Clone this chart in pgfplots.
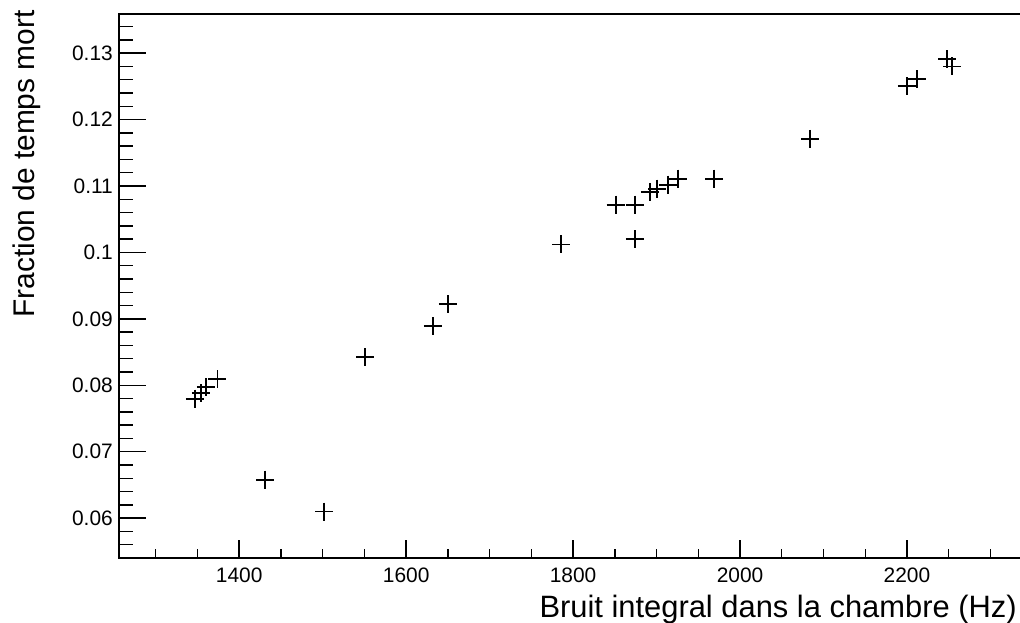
\documentclass[border=0pt]{standalone}
\usepackage{fontspec}
\setmainfont{Liberation Sans}
\usepackage{pgfplots}
\pgfplotsset{compat=1.18}
\begin{document}
\begin{tikzpicture}
\useasboundingbox (-119bp,-65bp) rectangle (901bp,558bp);
\clip (-119bp,-65bp) rectangle (901bp,558bp);
\begin{axis}[
  scale only axis,
  width=909bp, height=544bp,
  xmin=1256, xmax=2345, ymin=0.054, ymax=0.1359,
  axis line style={line width=1.6bp},
  tick align=inside,
  xtick pos=bottom, ytick pos=left,
  xtick={1400,1600,1800,2000,2200},
  minor xtick={1300,1350,1450,1500,1550,1650,1700,1750,1850,1900,1950,2050,2100,2150,2250,2300},
  ytick={0.06,0.07,0.08,0.09,0.1,0.11,0.12,0.13},
  minor ytick={0.056,0.058,0.062,0.064,0.066,0.068,0.072,0.074,0.076,0.078,0.082,0.084,0.086,0.088,0.092,0.094,0.096,0.098,0.102,0.104,0.106,0.108,0.112,0.114,0.116,0.118,0.122,0.124,0.126,0.128,0.132,0.134},
  xtick style={line width=1.4bp, black, /pgfplots/major tick length=18bp, /pgfplots/minor tick length=9bp},
  ytick style={line width=1.4bp, black, /pgfplots/major tick length=27bp, /pgfplots/minor tick length=14bp},
  scaled x ticks=false, scaled y ticks=false,
  /pgf/number format/assume math mode=true,
  xticklabel style={font=\fontsize{21}{25}\selectfont, inner sep=0pt, yshift=-10bp, /pgf/number format/fixed, /pgf/number format/set thousands separator={}},
  yticklabel style={font=\fontsize{21}{25}\selectfont, inner sep=0pt, xshift=-6bp, /pgf/number format/fixed, /pgf/number format/precision=2},
  xlabel={Bruit integral dans la chambre (Hz)},
  ylabel={Fraction de temps mort},
  every axis x label/.style={at={(axis description cs:0.9878,-0.1085)}, anchor=base east, font=\fontsize{31}{37}\selectfont, inner sep=0pt},
  every axis y label/.style={at={(axis description cs:-0.0935,1.007)}, anchor=base east, rotate=90, font=\fontsize{30}{36}\selectfont, inner sep=0pt},
  clip=false,
]
\addplot[only marks, mark=+, mark size=9bp, line width=1.9bp, black] coordinates {
(1347,0.0780)
(1354,0.0788)
(1360,0.0797)
(1374,0.0809)
(1431,0.0658)
(1502,0.0610)
(1551,0.0842)
(1632,0.0889)
(1650,0.0922)
(1786,0.1012)
(1851,0.1072)
(1874,0.1072)
(1874,0.1020)
(1892,0.1091)
(1901,0.1096)
(1914,0.1102)
(1926,0.1111)
(1969,0.1111)
(2084,0.1171)
(2200,0.1250)
(2212,0.1261)
(2248,0.1291)
(2254,0.1280)
};
\end{axis}
\end{tikzpicture}
\end{document}
